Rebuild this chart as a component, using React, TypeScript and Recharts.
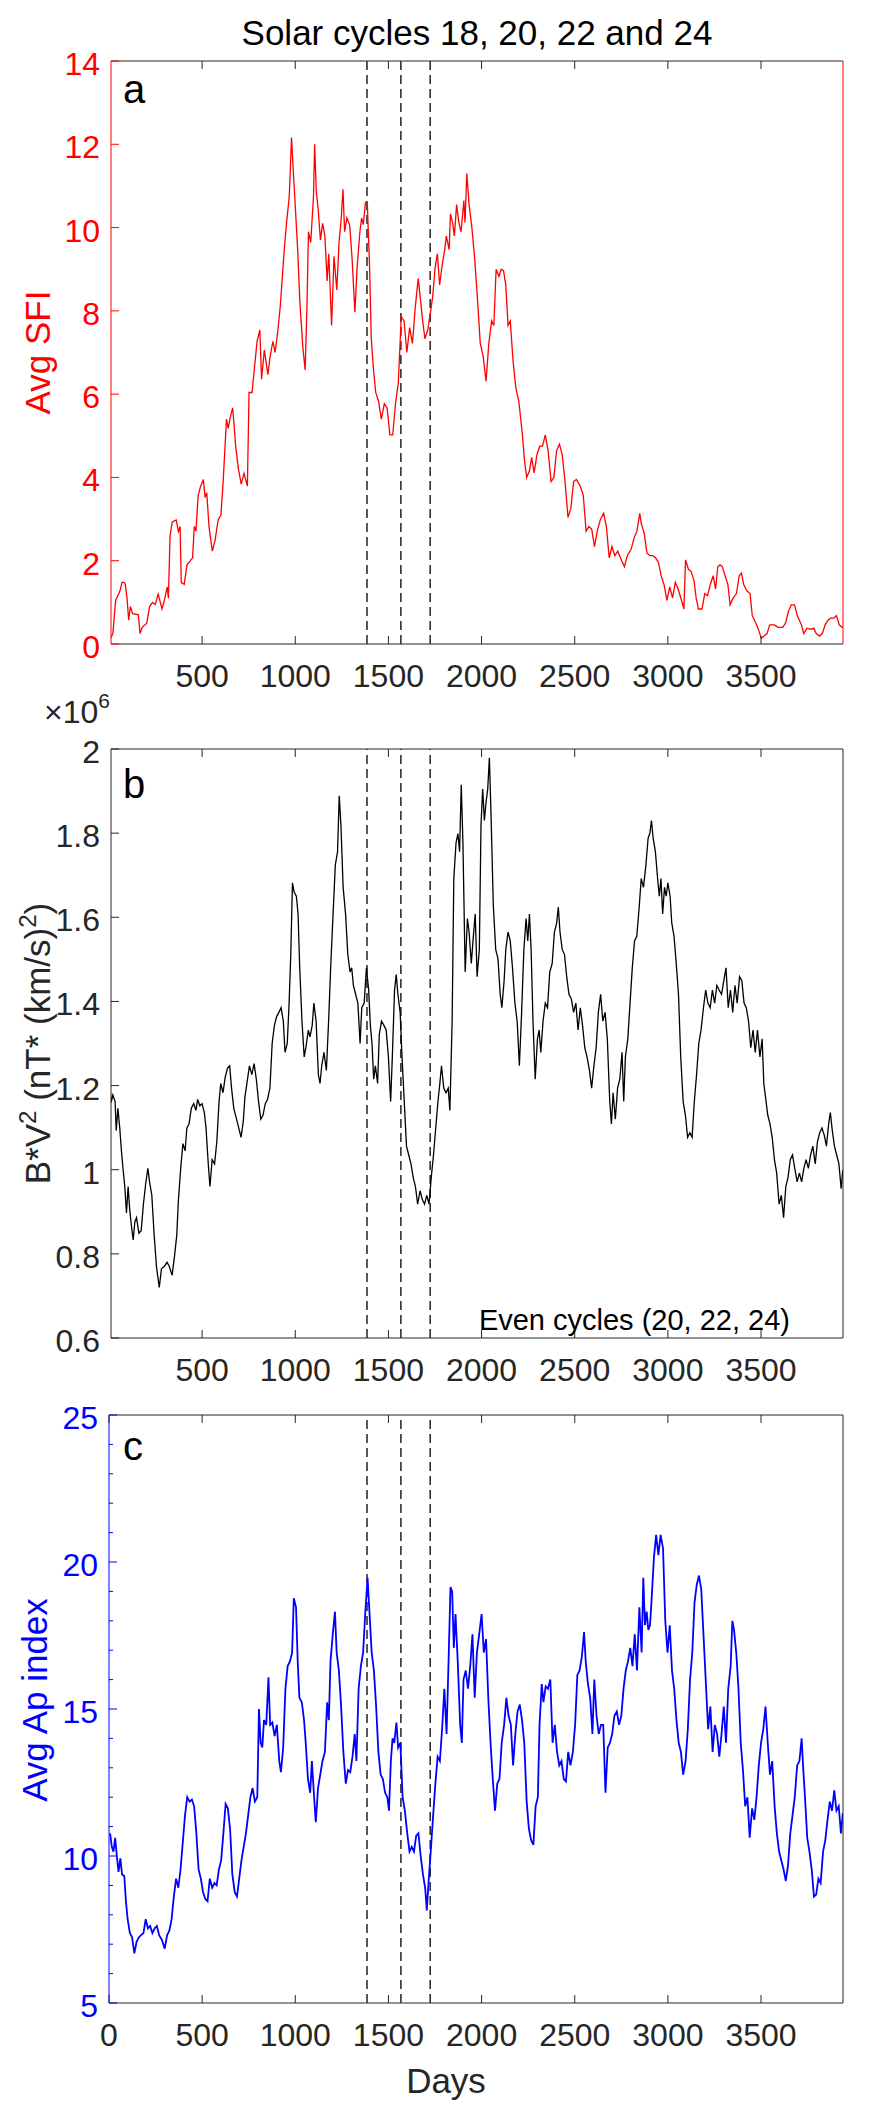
import { LineChart, Line, XAxis, YAxis, ReferenceLine } from "recharts";

// [day, value]
const sfi: [number, number][] = [
  [9, 0.14], [21, 0.25], [36, 1.05], [52, 1.2], [61, 1.3], [70, 1.48], [82, 1.48], [88, 1.43], [97, 1.1], [106, 0.57],
  [115, 0.9], [127, 0.73], [158, 0.7], [167, 0.25], [179, 0.4], [203, 0.5], [218, 0.9], [234, 1.0], [249, 0.95], [264, 1.2],
  [285, 0.84], [300, 1.1], [313, 1.37], [319, 1.1], [328, 2.6], [340, 2.93], [361, 2.98], [373, 2.7], [382, 2.82], [388, 1.48],
  [404, 1.43], [419, 1.9], [437, 2.0], [449, 2.07], [458, 2.82], [467, 2.71], [479, 3.57], [492, 3.79], [507, 3.95], [516, 3.52],
  [525, 3.63], [537, 2.82], [555, 2.23], [570, 2.5], [586, 2.98], [601, 3.09], [613, 3.9], [622, 4.65], [631, 5.4], [640, 5.18],
  [652, 5.46], [664, 5.67], [671, 5.3], [680, 4.75], [695, 4.2], [710, 3.84], [725, 4.1], [743, 3.79], [752, 6.04], [768, 6.04],
  [780, 6.58], [795, 7.27], [810, 7.54], [819, 6.36], [834, 7.06], [853, 6.47], [865, 6.9], [880, 7.27], [892, 7.0], [907, 7.54],
  [919, 8.08], [931, 8.83], [941, 9.47], [953, 10.1], [968, 10.76], [980, 12.16], [989, 11.4], [1001, 10.44], [1013, 9.47], [1025, 8.19],
  [1041, 7.11], [1053, 6.58], [1062, 7.97], [1071, 9.9], [1083, 9.64], [1098, 10.76], [1104, 12.0], [1113, 10.87], [1123, 10.44], [1135, 9.7],
  [1147, 10.1], [1159, 9.8], [1171, 8.72], [1180, 9.37], [1195, 7.65], [1208, 9.31], [1223, 8.5], [1235, 9.64], [1247, 10.23], [1256, 10.92],
  [1265, 9.9], [1277, 10.23], [1292, 10.06], [1305, 9.26], [1320, 7.97], [1332, 9.05], [1347, 9.9], [1356, 10.23], [1365, 10.07], [1377, 10.6],
  [1387, 10.55], [1399, 9.05], [1408, 7.33], [1420, 6.58], [1432, 6.04], [1447, 5.83], [1462, 5.4], [1478, 5.77], [1493, 5.67], [1508, 5.02],
  [1523, 5.02], [1538, 5.77], [1553, 6.26], [1569, 7.86], [1584, 7.76], [1599, 7.0], [1614, 7.6], [1629, 7.22], [1644, 8.08], [1660, 8.78],
  [1669, 8.4], [1684, 7.76], [1696, 7.33], [1711, 7.54], [1726, 7.97], [1738, 8.35], [1751, 9.05], [1763, 9.37], [1775, 8.62], [1787, 9.05],
  [1802, 9.47], [1811, 9.8], [1826, 9.47], [1833, 10.33], [1845, 10.1], [1854, 9.8], [1866, 10.55], [1878, 10.12], [1890, 9.9], [1905, 10.65],
  [1911, 10.12], [1921, 11.3], [1933, 10.55], [1948, 10.0], [1963, 9.26], [1978, 8.29], [1993, 7.22], [2009, 6.9], [2024, 6.31], [2039, 7.22],
  [2054, 7.76], [2066, 7.65], [2078, 9.0], [2093, 8.83], [2106, 9.0], [2118, 8.96], [2130, 8.62], [2142, 7.65], [2154, 7.76], [2169, 6.8],
  [2184, 6.15], [2200, 5.83], [2218, 5.08], [2230, 4.43], [2242, 4.0], [2257, 4.16], [2269, 4.48], [2282, 4.11], [2297, 4.54], [2312, 4.75],
  [2327, 4.75], [2342, 5.02], [2357, 4.65], [2373, 3.9], [2388, 4.0], [2403, 4.65], [2418, 4.8], [2433, 4.54], [2448, 3.9], [2464, 3.04],
  [2479, 3.25], [2494, 3.9], [2509, 3.95], [2530, 3.79], [2546, 3.57], [2561, 2.71], [2576, 2.82], [2591, 2.76], [2606, 2.34], [2621, 2.71],
  [2637, 2.98], [2655, 3.14], [2670, 2.82], [2685, 2.07], [2700, 2.34], [2715, 2.12], [2731, 2.23], [2752, 2.0], [2767, 1.86], [2782, 2.12],
  [2803, 2.28], [2819, 2.55], [2834, 2.71], [2849, 3.14], [2858, 2.88], [2873, 2.66], [2888, 2.18], [2904, 2.12], [2919, 2.12], [2934, 2.07],
  [2949, 1.96], [2964, 1.64], [2979, 1.43], [2995, 1.05], [3010, 1.37], [3025, 1.11], [3040, 1.48], [3055, 1.32], [3073, 1.05], [3086, 0.84],
  [3095, 2.02], [3110, 1.8], [3125, 1.74], [3140, 1.53], [3152, 1.1], [3164, 0.84], [3183, 0.84], [3198, 1.21], [3213, 1.16], [3228, 1.43],
  [3243, 1.64], [3256, 1.32], [3268, 1.86], [3280, 1.9], [3292, 1.86], [3307, 1.64], [3322, 1.43], [3334, 0.94], [3350, 1.1], [3368, 1.21],
  [3383, 1.64], [3395, 1.7], [3407, 1.43], [3425, 1.27], [3441, 1.21], [3453, 0.68], [3471, 0.51], [3486, 0.35], [3501, 0.14], [3516, 0.19],
  [3532, 0.25], [3547, 0.46], [3571, 0.46], [3592, 0.4], [3617, 0.4], [3632, 0.51], [3647, 0.78], [3662, 0.94], [3680, 0.94], [3695, 0.68],
  [3717, 0.46], [3729, 0.25], [3747, 0.38], [3768, 0.35], [3783, 0.38], [3796, 0.25], [3814, 0.19], [3829, 0.25], [3844, 0.46], [3859, 0.57],
  [3874, 0.62], [3890, 0.62], [3905, 0.68], [3920, 0.46], [3935, 0.4], [3940, 0.4],
];

// B*V^2 in units of 10^6 nT*(km/s)^2
const bv2: [number, number][] = [
  [3, 1.21], [12, 1.16], [21, 1.178], [33, 1.162], [39, 1.093], [48, 1.146], [58, 1.099], [67, 1.045], [76, 1.0], [85, 0.96],
  [94, 0.897], [103, 0.96], [112, 0.902], [121, 0.865], [130, 0.833], [139, 0.876], [148, 0.886], [161, 0.849], [173, 0.855], [185, 0.918],
  [197, 0.966], [209, 1.003], [218, 0.971], [230, 0.94], [242, 0.849], [255, 0.77], [270, 0.72], [282, 0.765], [297, 0.77], [312, 0.78],
  [324, 0.77], [339, 0.749], [351, 0.791], [364, 0.844], [373, 0.929], [385, 1.003], [397, 1.062], [409, 1.045], [418, 1.099], [430, 1.109],
  [442, 1.146], [455, 1.157], [467, 1.141], [476, 1.167], [488, 1.152], [500, 1.157], [512, 1.136], [521, 1.099], [533, 1.014], [542, 0.96],
  [554, 1.024], [567, 1.014], [579, 1.067], [591, 1.162], [600, 1.205], [612, 1.183], [624, 1.22], [636, 1.241], [648, 1.247], [658, 1.194],
  [670, 1.146], [682, 1.125], [697, 1.099], [709, 1.077], [721, 1.115], [730, 1.173], [742, 1.21], [754, 1.247], [767, 1.226], [779, 1.252],
  [791, 1.215], [803, 1.162], [815, 1.12], [827, 1.13], [839, 1.157], [851, 1.167], [864, 1.194], [876, 1.3], [888, 1.343], [900, 1.364],
  [912, 1.374], [924, 1.385], [936, 1.353], [945, 1.279], [957, 1.3], [967, 1.396], [976, 1.512], [985, 1.682], [994, 1.66], [1006, 1.65],
  [1015, 1.608], [1024, 1.48], [1036, 1.353], [1048, 1.268], [1057, 1.29], [1070, 1.332], [1079, 1.316], [1091, 1.343], [1100, 1.396], [1112, 1.353],
  [1124, 1.226], [1133, 1.205], [1142, 1.247], [1154, 1.279], [1167, 1.236], [1179, 1.353], [1191, 1.49], [1203, 1.608], [1215, 1.724], [1227, 1.756],
  [1236, 1.889], [1245, 1.82], [1257, 1.671], [1270, 1.608], [1282, 1.512], [1294, 1.47], [1303, 1.48], [1312, 1.438], [1324, 1.417], [1336, 1.396],
  [1348, 1.3], [1357, 1.385], [1370, 1.396], [1382, 1.48], [1394, 1.427], [1403, 1.343], [1412, 1.3], [1421, 1.215], [1430, 1.247], [1442, 1.205],
  [1451, 1.321], [1463, 1.353], [1476, 1.343], [1488, 1.332], [1500, 1.268], [1512, 1.162], [1521, 1.268], [1533, 1.427], [1542, 1.464], [1551, 1.417],
  [1563, 1.374], [1573, 1.268], [1585, 1.162], [1597, 1.056], [1609, 1.035], [1621, 1.014], [1633, 0.982], [1645, 0.96], [1657, 0.918], [1670, 0.95],
  [1682, 0.929], [1694, 0.918], [1706, 0.939], [1718, 0.918], [1730, 0.982], [1742, 1.035], [1754, 1.099], [1766, 1.162], [1776, 1.205], [1785, 1.247],
  [1797, 1.194], [1809, 1.183], [1821, 1.194], [1830, 1.141], [1842, 1.353], [1851, 1.692], [1863, 1.777], [1873, 1.799], [1882, 1.756], [1891, 1.915],
  [1900, 1.777], [1912, 1.47], [1924, 1.597], [1933, 1.565], [1945, 1.49], [1954, 1.544], [1966, 1.608], [1976, 1.459], [1988, 1.523], [1997, 1.82],
  [2006, 1.905], [2015, 1.83], [2024, 1.873], [2033, 1.905], [2042, 1.979], [2051, 1.841], [2063, 1.629], [2076, 1.523], [2088, 1.502], [2100, 1.417],
  [2109, 1.385], [2121, 1.449], [2130, 1.523], [2142, 1.565], [2154, 1.544], [2166, 1.48], [2179, 1.396], [2191, 1.353], [2203, 1.247], [2215, 1.374],
  [2227, 1.523], [2239, 1.597], [2248, 1.544], [2257, 1.608], [2266, 1.523], [2276, 1.353], [2288, 1.215], [2300, 1.311], [2309, 1.332], [2318, 1.279],
  [2330, 1.353], [2342, 1.396], [2354, 1.385], [2366, 1.47], [2379, 1.49], [2391, 1.565], [2403, 1.586], [2412, 1.624], [2421, 1.565], [2433, 1.523],
  [2445, 1.512], [2457, 1.459], [2469, 1.417], [2482, 1.406], [2494, 1.374], [2506, 1.396], [2518, 1.332], [2530, 1.385], [2542, 1.343], [2554, 1.29],
  [2566, 1.268], [2579, 1.236], [2591, 1.194], [2603, 1.247], [2615, 1.29], [2627, 1.374], [2639, 1.417], [2651, 1.353], [2663, 1.374], [2675, 1.311],
  [2688, 1.162], [2697, 1.109], [2706, 1.183], [2718, 1.12], [2730, 1.194], [2742, 1.215], [2754, 1.279], [2763, 1.162], [2772, 1.268], [2785, 1.311],
  [2797, 1.396], [2809, 1.48], [2821, 1.544], [2833, 1.555], [2845, 1.618], [2857, 1.692], [2869, 1.671], [2882, 1.724], [2894, 1.788], [2903, 1.799],
  [2912, 1.83], [2921, 1.788], [2933, 1.756], [2945, 1.692], [2954, 1.65], [2963, 1.692], [2972, 1.608], [2982, 1.671], [2991, 1.65], [3000, 1.682],
  [3012, 1.65], [3021, 1.586], [3033, 1.555], [3045, 1.49], [3057, 1.417], [3069, 1.268], [3082, 1.162], [3094, 1.13], [3106, 1.077], [3118, 1.088],
  [3130, 1.077], [3142, 1.162], [3154, 1.226], [3166, 1.3], [3178, 1.332], [3191, 1.385], [3203, 1.427], [3215, 1.396], [3227, 1.385], [3239, 1.427],
  [3251, 1.396], [3263, 1.438], [3275, 1.427], [3288, 1.417], [3300, 1.449], [3312, 1.48], [3324, 1.385], [3336, 1.427], [3348, 1.374], [3360, 1.438],
  [3372, 1.396], [3385, 1.459], [3397, 1.449], [3409, 1.396], [3421, 1.385], [3433, 1.353], [3445, 1.29], [3457, 1.332], [3469, 1.279], [3481, 1.332],
  [3494, 1.268], [3506, 1.311], [3515, 1.205], [3524, 1.173], [3536, 1.13], [3548, 1.109], [3560, 1.077], [3572, 1.024], [3584, 0.992], [3597, 0.918],
  [3609, 0.939], [3621, 0.886], [3633, 0.96], [3645, 0.982], [3657, 1.024], [3669, 1.035], [3681, 1.003], [3694, 0.971], [3706, 0.992], [3718, 0.971],
  [3730, 1.003], [3742, 1.024], [3754, 1.003], [3766, 1.035], [3778, 1.056], [3791, 1.014], [3803, 1.067], [3815, 1.088], [3827, 1.099], [3839, 1.083],
  [3851, 1.056], [3863, 1.109], [3872, 1.136], [3881, 1.099], [3894, 1.056], [3906, 1.035], [3918, 1.014], [3930, 0.955], [3939, 1.0],
];

const ap: [number, number][] = [
  [6, 10.77], [15, 10.31], [24, 10.15], [33, 10.62], [42, 10.0], [51, 9.46], [61, 9.92], [70, 9.38], [82, 9.31], [91, 8.46],
  [100, 7.85], [112, 7.38], [124, 7.23], [136, 6.69], [148, 7.08], [160, 7.23], [172, 7.31], [185, 7.38], [197, 7.85], [209, 7.54],
  [221, 7.62], [233, 7.38], [245, 7.54], [257, 7.62], [269, 7.31], [284, 7.15], [299, 6.85], [312, 7.31], [324, 7.46], [336, 7.85],
  [348, 8.62], [360, 9.23], [372, 8.92], [384, 9.54], [396, 10.46], [408, 11.38], [420, 12.0], [433, 11.85], [445, 11.92], [457, 11.69],
  [469, 10.77], [481, 9.54], [493, 9.23], [505, 8.77], [517, 8.54], [529, 8.46], [541, 9.23], [554, 8.92], [566, 9.08], [578, 9.0],
  [590, 9.54], [602, 9.85], [614, 10.77], [626, 11.77], [638, 11.62], [650, 10.92], [662, 9.38], [675, 8.77], [687, 8.62], [699, 9.23],
  [711, 9.85], [723, 10.31], [735, 10.77], [747, 11.38], [759, 12.0], [771, 12.31], [783, 11.85], [796, 12.0], [805, 15.0], [814, 13.85],
  [823, 13.69], [832, 14.62], [844, 14.46], [856, 16.08], [865, 14.46], [877, 14.54], [889, 14.08], [901, 14.46], [914, 13.23], [923, 12.85],
  [935, 13.69], [947, 15.69], [959, 16.46], [971, 16.62], [983, 16.92], [992, 18.77], [1004, 18.46], [1013, 16.62], [1022, 15.38], [1035, 15.23],
  [1047, 14.62], [1056, 13.85], [1068, 12.62], [1080, 12.15], [1089, 13.23], [1101, 12.0], [1110, 11.15], [1122, 12.31], [1134, 12.77], [1146, 13.23],
  [1159, 13.54], [1171, 15.23], [1180, 14.62], [1189, 16.62], [1201, 17.54], [1213, 18.31], [1222, 16.92], [1234, 16.31], [1246, 15.08], [1258, 13.54],
  [1271, 12.46], [1283, 12.92], [1295, 12.85], [1307, 13.38], [1319, 14.15], [1328, 13.23], [1340, 15.69], [1352, 16.46], [1364, 16.92], [1376, 18.31],
  [1388, 19.46], [1398, 18.31], [1410, 16.92], [1422, 16.31], [1434, 15.08], [1446, 13.54], [1458, 12.77], [1470, 12.62], [1482, 12.15], [1494, 12.0],
  [1503, 11.54], [1513, 13.23], [1522, 14.0], [1531, 13.85], [1543, 14.54], [1552, 13.69], [1564, 13.85], [1576, 12.0], [1588, 11.54], [1601, 10.77],
  [1613, 10.15], [1625, 10.31], [1637, 10.15], [1649, 10.69], [1661, 10.77], [1673, 10.0], [1685, 9.38], [1697, 8.92], [1706, 8.15], [1715, 9.08],
  [1727, 10.15], [1740, 11.38], [1752, 12.46], [1764, 13.38], [1776, 13.23], [1788, 14.31], [1800, 15.69], [1812, 14.15], [1824, 16.92], [1833, 19.15],
  [1842, 19.0], [1851, 17.08], [1860, 18.23], [1872, 16.62], [1885, 14.46], [1894, 13.85], [1903, 16.0], [1915, 16.31], [1927, 15.69], [1939, 16.46],
  [1951, 17.54], [1963, 15.38], [1975, 16.92], [1987, 17.54], [2000, 18.23], [2012, 16.92], [2024, 17.38], [2036, 15.38], [2048, 13.85], [2060, 12.62],
  [2072, 11.54], [2084, 12.46], [2096, 12.62], [2108, 13.85], [2121, 14.46], [2133, 15.38], [2145, 14.77], [2157, 14.46], [2169, 13.08], [2181, 14.15],
  [2193, 14.92], [2205, 15.15], [2217, 14.62], [2229, 13.85], [2242, 11.85], [2254, 10.92], [2266, 10.54], [2278, 10.38], [2290, 11.69], [2302, 12.0],
  [2311, 14.46], [2323, 15.85], [2332, 15.23], [2344, 15.77], [2356, 15.69], [2369, 16.0], [2381, 13.85], [2393, 14.46], [2405, 13.54], [2417, 13.08],
  [2429, 13.23], [2441, 12.62], [2453, 12.54], [2465, 13.54], [2477, 13.08], [2490, 13.54], [2502, 14.46], [2514, 16.15], [2526, 16.31], [2538, 16.77],
  [2550, 17.62], [2559, 16.62], [2571, 15.85], [2583, 15.38], [2595, 14.15], [2605, 16.0], [2617, 14.77], [2629, 14.15], [2641, 14.46], [2653, 14.46],
  [2665, 12.15], [2677, 13.69], [2689, 13.85], [2701, 14.15], [2713, 14.77], [2726, 14.92], [2738, 14.46], [2750, 14.77], [2762, 15.69], [2774, 16.31],
  [2786, 16.62], [2798, 17.08], [2810, 16.46], [2822, 17.54], [2834, 16.31], [2847, 18.46], [2859, 16.92], [2868, 19.46], [2877, 17.85], [2886, 18.31],
  [2895, 17.69], [2904, 17.85], [2913, 18.77], [2925, 20.15], [2937, 20.92], [2949, 20.23], [2961, 20.92], [2974, 20.46], [2986, 18.0], [2998, 16.92],
  [3010, 17.85], [3022, 16.31], [3034, 15.69], [3046, 14.62], [3058, 13.85], [3070, 13.54], [3082, 12.77], [3095, 13.23], [3107, 14.31], [3119, 16.0],
  [3131, 16.92], [3143, 18.62], [3155, 19.23], [3167, 19.54], [3179, 19.08], [3191, 17.54], [3203, 16.0], [3216, 14.31], [3228, 15.08], [3240, 13.54],
  [3252, 14.46], [3264, 14.15], [3276, 13.38], [3288, 14.15], [3300, 15.08], [3312, 13.85], [3324, 15.69], [3337, 16.46], [3346, 18.0], [3355, 17.69],
  [3367, 16.92], [3379, 15.69], [3391, 13.85], [3403, 12.92], [3415, 11.69], [3427, 12.0], [3439, 10.62], [3452, 11.62], [3464, 11.23], [3476, 12.0],
  [3488, 13.08], [3500, 13.85], [3512, 14.31], [3524, 15.08], [3536, 13.85], [3548, 12.77], [3560, 13.23], [3573, 11.69], [3585, 10.77], [3597, 10.15],
  [3609, 9.85], [3621, 9.54], [3633, 9.15], [3645, 9.69], [3657, 10.77], [3669, 11.38], [3681, 12.0], [3694, 13.08], [3706, 13.23], [3718, 14.0],
  [3727, 12.92], [3736, 12.0], [3748, 10.62], [3760, 10.15], [3772, 9.54], [3784, 8.62], [3796, 8.69], [3808, 9.23], [3820, 9.08], [3833, 10.15],
  [3845, 10.54], [3857, 11.23], [3869, 11.85], [3881, 11.54], [3893, 12.23], [3905, 11.54], [3917, 11.69], [3929, 10.77], [3939, 11.46],
];

const dayTicks = [500, 1000, 1500, 2000, 2500, 3000, 3500];
const dayTicksC = [0, 500, 1000, 1500, 2000, 2500, 3000, 3500];
const sfiTicks = [0, 2, 4, 6, 8, 10, 12, 14];
const bv2Ticks = [0.6, 0.8, 1, 1.2, 1.4, 1.6, 1.8, 2];
const apTicks = [5, 6, 7, 8, 9, 10, 11, 12, 13, 14, 15, 16, 17, 18, 19, 20, 21, 22, 23, 24, 25];
const apMajor = [5, 10, 15, 20, 25];
const dashedDays = [1385, 1567, 1724];

const FONT = '"Liberation Sans", Arial, Helvetica, sans-serif';
const AX = "#262626";
const RED = "#ff0000";
const BLUE = "#0000ff";
const TICK_FS = 32;
const LABEL_FS = 35;
const TL = 8;

const toRows = (pts: [number, number][]) => pts.map(([day, v]) => ({ day, v }));

const bottomTick = (color: string) => (p: any) => (
  <g>
    <line x1={p.x} x2={p.x} y1={p.y} y2={p.y - TL} stroke={color} strokeWidth={1} />
    <text x={p.x} y={p.y + 43} textAnchor="middle" fontSize={TICK_FS} fill={color} fontFamily={FONT}>
      {p.payload.value}
    </text>
  </g>
);

const topTick = (p: any) => <line x1={p.x} x2={p.x} y1={p.y} y2={p.y + TL} stroke={AX} strokeWidth={1} />;

const leftTick = (color: string, major?: number[]) => (p: any) => {
  const v = p.payload.value;
  const isMajor = !major || major.includes(v);
  return (
    <g>
      <line x1={p.x} x2={p.x + (isMajor ? TL : 4)} y1={p.y} y2={p.y} stroke={color} strokeWidth={1} />
      {isMajor && (
        <text x={p.x - 11} y={p.y + 14} textAnchor="end" fontSize={TICK_FS} fill={color} fontFamily={FONT}>
          {String(v)}
        </text>
      )}
    </g>
  );
};

const rightTick = (color: string) => (p: any) => (
  <line x1={p.x} x2={p.x - TL} y1={p.y} y2={p.y} stroke={color} strokeWidth={1} />
);

const yTitle = (cx: number, cy: number, color: string, body: any) => ({
  content: () => (
    <text x={cx} y={cy} transform={`rotate(-90 ${cx} ${cy})`} textAnchor="middle" fontSize={LABEL_FS} fill={color} fontFamily={FONT}>
      {body}
    </text>
  ),
});

const dashes = dashedDays.map((d) => (
  <ReferenceLine key={d} x={d} xAxisId="b" yAxisId="l" stroke="#000" strokeWidth={1.3} strokeDasharray="9 5" />
));

export default function App() {
  return (
    <div style={{ position: "absolute", left: 0, top: 0, width: 884, height: 2108, background: "#fff" }}>
      {/* panel a */}
      <div style={{ position: "absolute", left: 0, top: 0 }}>
        <LineChart width={884} height={704} data={toRows(sfi)} margin={{ top: 0, right: 0, bottom: 0, left: 0 }}>
          <XAxis xAxisId="b" type="number" dataKey="day" domain={[11, 3940]} allowDataOverflow ticks={dayTicks} interval={0}
            height={60} tickSize={0} tickMargin={0} tickLine={false} tick={bottomTick(AX)} axisLine={{ stroke: AX }} />
          <XAxis xAxisId="t" orientation="top" type="number" dataKey="day" domain={[11, 3940]} allowDataOverflow ticks={dayTicks} interval={0}
            height={61} tickSize={0} tickMargin={0} tickLine={false} tick={topTick} axisLine={{ stroke: AX }} />
          <YAxis yAxisId="l" type="number" domain={[0, 14]} ticks={sfiTicks} interval={0} width={111}
            tickSize={0} tickMargin={0} tickLine={false} tick={leftTick(RED)} axisLine={{ stroke: RED }}
            label={yTitle(50, 61 + 583 / 2, RED, "Avg SFI")} />
          <YAxis yAxisId="r" orientation="right" type="number" domain={[0, 14]} ticks={sfiTicks} interval={0} width={41}
            tickSize={0} tickMargin={0} tickLine={false} tick={rightTick(RED)} axisLine={{ stroke: RED }} />
          {dashes}
          <Line xAxisId="b" yAxisId="l" type="linear" dataKey="v" stroke={RED} strokeWidth={1.3} dot={false} isAnimationActive={false} />
        </LineChart>
      </div>

      {/* panel b */}
      <div style={{ position: "absolute", left: 0, top: 689 }}>
        <LineChart width={884} height={709} data={toRows(bv2)} margin={{ top: 0, right: 0, bottom: 0, left: 0 }}>
          <XAxis xAxisId="b" type="number" dataKey="day" domain={[11, 3940]} allowDataOverflow ticks={dayTicks} interval={0}
            height={60} tickSize={0} tickMargin={0} tickLine={false} tick={bottomTick(AX)} axisLine={{ stroke: AX }} />
          <XAxis xAxisId="t" orientation="top" type="number" dataKey="day" domain={[11, 3940]} allowDataOverflow ticks={dayTicks} interval={0}
            height={60} tickSize={0} tickMargin={0} tickLine={false} tick={topTick} axisLine={{ stroke: AX }} />
          <YAxis yAxisId="l" type="number" domain={[0.6, 2]} ticks={bv2Ticks} interval={0} width={111}
            tickSize={0} tickMargin={0} tickLine={false} tick={leftTick(AX)} axisLine={{ stroke: AX }}
            label={yTitle(50, 60 + 589 / 2, AX, (
              <>
                B*V<tspan dy={-14} fontSize={24}>2</tspan>
                <tspan dy={14}> (nT* (km/s)</tspan>
                <tspan dy={-14} fontSize={24}>2</tspan>
                <tspan dy={14}>)</tspan>
              </>
            ))} />
          <YAxis yAxisId="r" orientation="right" type="number" domain={[0.6, 2]} ticks={bv2Ticks} interval={0} width={41}
            tickSize={0} tickMargin={0} tickLine={false} tick={rightTick(AX)} axisLine={{ stroke: AX }} />
          {dashes}
          <Line xAxisId="b" yAxisId="l" type="linear" dataKey="v" stroke="#000" strokeWidth={1.3} dot={false} isAnimationActive={false} />
        </LineChart>
      </div>

      {/* panel c */}
      <div style={{ position: "absolute", left: 0, top: 1355 }}>
        <LineChart width={884} height={753} data={toRows(ap)} margin={{ top: 0, right: 0, bottom: 0, left: 0 }}>
          <XAxis xAxisId="b" type="number" dataKey="day" domain={[0, 3940]} allowDataOverflow ticks={dayTicksC} interval={0}
            height={105} tickSize={0} tickMargin={0} tickLine={false} tick={bottomTick(AX)} axisLine={{ stroke: AX }}
            label={{
              content: () => (
                <text x={446} y={738} textAnchor="middle" fontSize={LABEL_FS} fill={AX} fontFamily={FONT}>Days</text>
              ),
            }} />
          <XAxis xAxisId="t" orientation="top" type="number" dataKey="day" domain={[0, 3940]} allowDataOverflow ticks={dayTicksC} interval={0}
            height={60} tickSize={0} tickMargin={0} tickLine={false} tick={topTick} axisLine={{ stroke: AX }} />
          <YAxis yAxisId="l" type="number" domain={[5, 25]} ticks={apTicks} interval={0} width={109}
            tickSize={0} tickMargin={0} tickLine={false} tick={leftTick(BLUE, apMajor)} axisLine={{ stroke: BLUE }}
            label={yTitle(47, 60 + 588 / 2 - 9, BLUE, "Avg Ap index")} />
          <YAxis yAxisId="r" orientation="right" type="number" domain={[5, 25]} width={41}
            tick={false} tickLine={false} axisLine={{ stroke: AX }} />
          {dashes}
          <Line xAxisId="b" yAxisId="l" type="linear" dataKey="v" stroke={BLUE} strokeWidth={1.8} dot={false} isAnimationActive={false} />
        </LineChart>
      </div>

      <svg width={884} height={2108} style={{ position: "absolute", left: 0, top: 0, pointerEvents: "none" }} fontFamily={FONT}>
        <text x={477} y={45} textAnchor="middle" fontSize={35} fill="#000">Solar cycles 18, 20, 22 and 24</text>
        <text x={123} y={103} fontSize={40} fill="#000">a</text>
        <text x={123} y={798} fontSize={40} fill="#000">b</text>
        <text x={123} y={1460} fontSize={40} fill="#000">c</text>
        <text x={44} y={723} fontSize={TICK_FS} fill={AX}>
          ×10<tspan dy={-15} fontSize={21}>6</tspan>
        </text>
        <text x={790} y={1330} textAnchor="end" fontSize={29} fill="#000">Even cycles (20, 22, 24)</text>
      </svg>
    </div>
  );
}
